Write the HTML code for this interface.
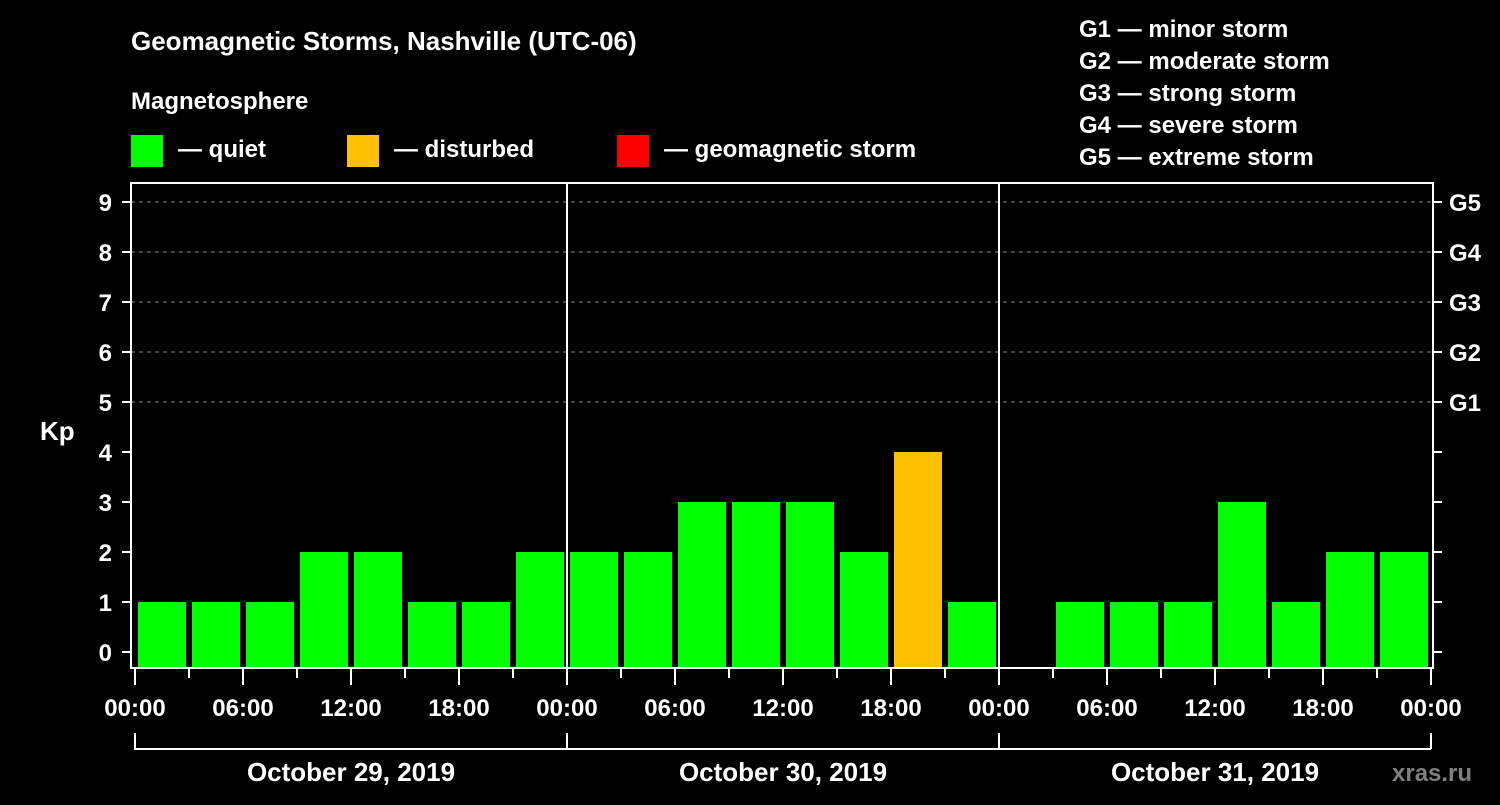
<!DOCTYPE html>
<html><head><meta charset="utf-8"><style>
html,body{margin:0;padding:0;background:#000;}
svg text{font-family:"Liberation Sans",Arial,sans-serif;font-weight:bold;fill:#fff;}
</style></head><body>
<svg id="c" width="1500" height="800" xmlns="http://www.w3.org/2000/svg">
<text x="131" y="50" font-size="26">Geomagnetic Storms, Nashville (UTC-06)</text>
<text x="131" y="109" font-size="24">Magnetosphere</text>
<g><rect x="131" y="135" width="32" height="32" fill="#00ff00"/><text x="178" y="157" font-size="24">— quiet</text></g>
<g><rect x="347" y="135" width="32" height="32" fill="#ffc000"/><text x="394" y="157" font-size="24">— disturbed</text></g>
<g><rect x="617" y="135" width="32" height="32" fill="#ff0000"/><text x="664" y="157" font-size="24">— geomagnetic storm</text></g>
<g font-size="24">
<text x="1079" y="37">G1 — minor storm</text>
<text x="1079" y="69">G2 — moderate storm</text>
<text x="1079" y="101">G3 — strong storm</text>
<text x="1079" y="133">G4 — severe storm</text>
<text x="1079" y="165">G5 — extreme storm</text>
</g>
<text x="40" y="440" font-size="26">Kp</text>
<text x="1392" y="781" font-size="24" fill="#888" style="fill:#7f7f7f">xras.ru</text>
<g id="plot"></g>
</svg>
<script>
const days = ["October 29, 2019","October 30, 2019","October 31, 2019"];
const kp = [1,1,1,2,2,1,1,2, 2,2,3,3,3,2,4,1, null,1,1,1,3,1,2,2];
const yTicks = [0,1,2,3,4,5,6,7,8,9];
const gLabels = ["G1","G2","G3","G4","G5"];
const hourLabels = ["00:00","06:00","12:00","18:00"];

const NS="http://www.w3.org/2000/svg";
const g=document.getElementById('plot');
const L=131,R=1433,T=183,B=668,X0=135,DAY=432;
const y=v=>652-v*50;
const x=h=>X0+h*DAY/24;
function el(t,a,p){const e=document.createElementNS(NS,t);for(const k in a)e.setAttribute(k,a[k]);(p||g).appendChild(e);return e;}

yTicks.forEach(v=>{
  if(v>=5){const l=el('line',{x1:L,x2:R,y1:y(v),y2:y(v),stroke:'#888','stroke-dasharray':'4,4','stroke-width':1});
  }
  const t1=el('line',{x1:122,x2:L,y1:y(v),y2:y(v),stroke:'#fff','stroke-width':2});
  
  const t2=el('line',{x1:R,x2:1442,y1:y(v),y2:y(v),stroke:'#fff','stroke-width':2});
  
  const tx=el('text',{x:112,y:y(v)+9,'font-size':24,'text-anchor':'end'});tx.textContent=v;
  
});
gLabels.forEach((s,i)=>{
  const tx=el('text',{x:1449,y:y(5+i)+9,'font-size':24});tx.textContent=s;
  
});
kp.forEach((v,i)=>{
  if(v===null||v===undefined)return;
  const c=v>=5?'#ff0000':(v>=4?'#ffc000':'#00ff00');
  const r=el('rect',{x:x(i*3)+3,y:y(v),width:48,height:B-1-y(v),fill:c});
  
});
// frame
const fr=el('rect',{x:L,y:T,width:R-L,height:B-T,fill:'none',stroke:'#fff','stroke-width':2});

for(let d=1;d<days.length;d++){
  const s=el('line',{x1:x(d*24),x2:x(d*24),y1:T,y2:B,stroke:'#fff','stroke-width':2});
  
}
for(let h=0;h<=72;h+=3){
  const major=h%6===0;
  const t=el('line',{x1:x(h),x2:x(h),y1:B,y2:major?685:678,stroke:'#fff','stroke-width':2});
  
  if(major){
    const tx=el('text',{x:x(h),y:716,'font-size':24,'text-anchor':'middle'});
    tx.textContent=hourLabels[(h/6)%4];
    
  }
}
days.forEach((dname,d)=>{
  const bl=el('path',{d:`M${x(d*24)},733 V749 H${x(d*24+24)}`,fill:'none',stroke:'#fff','stroke-width':2});
  
  const tx=el('text',{x:x(d*24+12),y:781,'font-size':26,'text-anchor':'middle'});tx.textContent=dname;
  
});
const end=el('line',{x1:x(72),x2:x(72),y1:733,y2:749,stroke:'#fff','stroke-width':2});

</script>
</body></html>
